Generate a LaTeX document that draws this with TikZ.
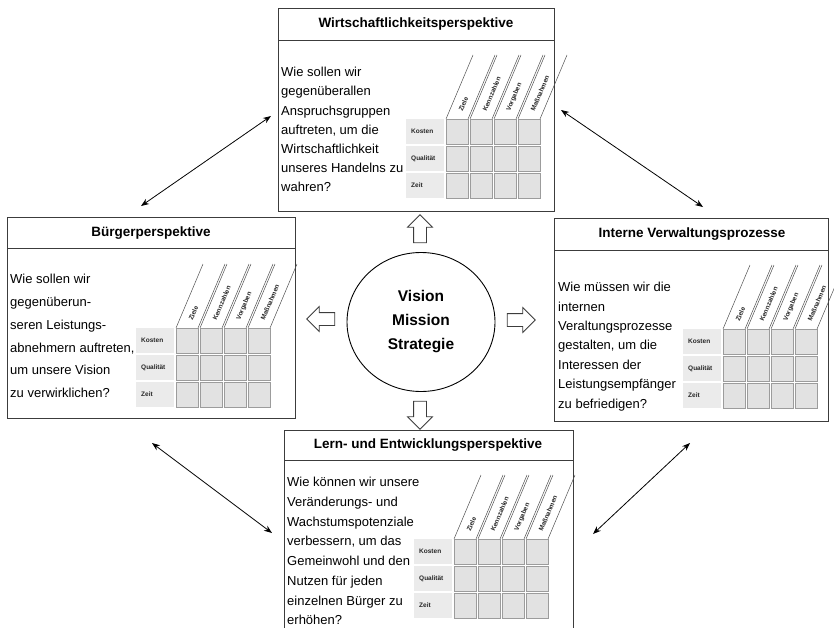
\documentclass[tikz,border=0pt]{standalone}
\usepackage{fontspec}
\setmainfont{Liberation Sans}
\usepackage{tikz}
\usetikzlibrary{shapes.geometric, shapes.arrows}
\usetikzlibrary{arrows.meta}
\definecolor{boxline}{HTML}{3C3C3C}
\definecolor{cellfill}{HTML}{E2E2E2}
\definecolor{cellline}{HTML}{9C9C9C}
\definecolor{labfill}{HTML}{EBEBEB}
\definecolor{hdrline}{HTML}{505050}

\begin{document}
\begin{tikzpicture}[x=1pt, y=-1pt,
  persp/.style = {draw=boxline, line width=0.9pt, anchor=north west,
        inner sep=0pt, outer sep=0pt},
  sep/.style = {draw=boxline, line width=0.9pt},
  ptitle/.style = {font=\fontsize{13.5}{16}\selectfont\bfseries},
  question/.style = {font=\fontsize{13}{#1}\selectfont, align=left,
        anchor=north west, inner sep=0pt},
  core/.style = {ellipse, draw, line width=0.9pt, minimum width=148pt,
        minimum height=139pt, align=center,
        font=\fontsize{15.5}{24}\selectfont\bfseries},
  push/.style = {single arrow, draw=boxline, line width=0.8pt, fill=white,
        inner xsep=0pt, inner ysep=6pt, single arrow head extend=6pt,
        single arrow head indent=0pt, minimum height=28pt},
  link/.style = {{Stealth[length=8pt,width=6pt]}-{Stealth[length=8pt,width=6pt]},
        line width=0.8pt},
  rowlab/.style = {anchor=west, inner sep=0pt, text=black!85,
        font=\fontsize{6.5}{7}\selectfont\bfseries},
  colhead/.style = {anchor=west, inner sep=0pt, rotate=67, text=black!85,
        font=\fontsize{6.5}{7}\selectfont\bfseries},
  pics/bscgrid/.style = {code={
    \foreach \lab [count=\i from 0] in {Kosten,Qualität,Zeit} {
      \fill[labfill] (0,\i*27) rectangle ++(38,25);
      \node[rowlab] (-row\i) at (5,\i*27+12.5) {\lab};
      \foreach \c in {0,...,3}
        \draw[cellline, fill=cellfill, line width=0.8pt] (40+\c*24,\i*27) rectangle ++(22,25);
    }
    \foreach \h [count=\c from 0] in {Ziele,Kennzahlen,Vorgaben,Maßnahmen} {
      \draw[hdrline, line width=0.5pt] (40+\c*24,0) -- ++(27,-64);
      \draw[hdrline, line width=0.5pt] (62+\c*24,0) -- ++(27,-64);
      \node[colhead] (-col\c) at (54.5+\c*24,-8) {\h};
    }
  }}]
 \useasboundingbox (0,0) rectangle (834,627);
 \clip (0,0) rectangle (834,627);

 % Wirtschaftlichkeit (top)
 \node[persp, minimum width=276pt, minimum height=203pt] (wirt) at (278,8) {};
 \draw[sep] (wirt.north west) ++(0,32) -- ++(276,0);
 \node[ptitle] (wirt-t) at (416,24) {Wirtschaftlichkeitsperspektive};
 \node[question=19.2pt] (wirt-q) at (281,67) {Wie sollen wir\\gegenüberallen\\Anspruchsgruppen\\auftreten, um die\\Wirtschaftlichkeit\\unseres Handelns zu\\wahren?};
 \pic (wgrid) at (406,119) {bscgrid};

 % Buerger (left)
 \node[persp, minimum width=288pt, minimum height=201pt] (buerg) at (7,217) {};
 \draw[sep] (buerg.north west) ++(0,31) -- ++(288,0);
 \node[ptitle] (buerg-t) at (151,233) {Bürgerperspektive};
 \node[question=22.8pt] (buerg-q) at (10,274) {Wie sollen wir\\gegenüberun-\\seren Leistungs-\\abnehmern auftreten,\\um unsere Vision\\zu verwirklichen?};
 \pic (bgrid) at (136,328) {bscgrid};

 % interne Prozesse (right)
 \node[persp, minimum width=274pt, minimum height=203pt] (proz) at (554,218) {};
 \draw[sep] (proz.north west) ++(0,32) -- ++(274,0);
 \node[ptitle] (proz-t) at (692,234) {Interne Verwaltungsprozesse};
 \node[question=19.4pt] (proz-q) at (558,282) {Wie müssen wir die\\internen\\Veraltungsprozesse\\gestalten, um die\\Interessen der\\Leistungsempfänger\\zu befriedigen?};
 \pic (pgrid) at (683,329) {bscgrid};

 % Lernen und Entwicklung (bottom)
 \node[persp, minimum width=289pt, minimum height=215pt] (lern) at (284,430) {};
 \draw[sep] (lern.north west) ++(0,30) -- ++(289,0);
 \node[ptitle] (lern-t) at (428,445) {Lern- und Entwicklungsperspektive};
 \node[question=19.75pt] (lern-q) at (287,477) {Wie können wir unsere\\Veränderungs- und\\Wachstumspotenziale\\verbessern, um das\\Gemeinwohl und den\\Nutzen für jeden\\einzelnen Bürger zu\\erhöhen?};
 \pic (lgrid) at (414,539) {bscgrid};

 % centre
 \node[core] (vms) at (421,322) {Vision\\Mission\\Strategie};
 \node[push, rotate=90]  (pup)    at (420,232) {};
 \node[push]             (pright) at (518,320) {};
 \node[push, rotate=270] (pdown)  at (420,412) {};
 \node[push, rotate=180] (pleft)  at (324,319) {};

 % links between perspectives
 \coordinate (tl1) at (271,116);
 \coordinate (tl2) at (141,206);
 \coordinate (tr1) at (561,110);
 \coordinate (tr2) at (703,207);
 \coordinate (bl1) at (152,443);
 \coordinate (bl2) at (272,533);
 \coordinate (br1) at (690,443);
 \coordinate (br2) at (593,534);
 \draw[link] (tl1) -- (tl2);
 \draw[link] (tr1) -- (tr2);
 \draw[link] (bl1) -- (bl2);
 \draw[link] (br1) -- (br2);
\end{tikzpicture}
\end{document}
